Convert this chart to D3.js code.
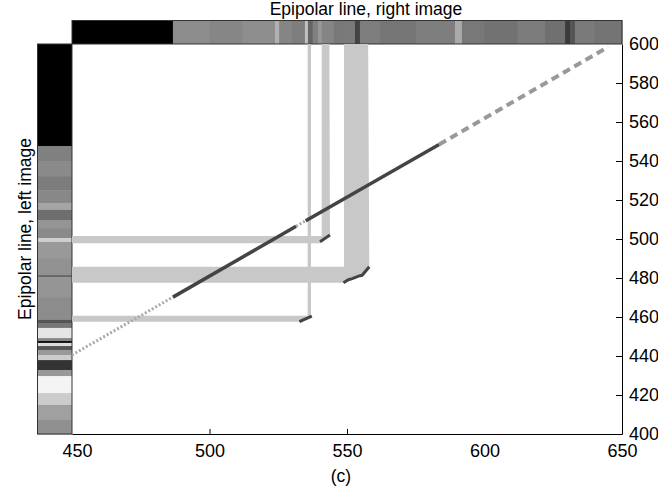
<!DOCTYPE html>
<html>
<head>
<meta charset="utf-8">
<script src="https://cdn.jsdelivr.net/npm/d3@7"></script>
<style>
  body { margin: 0; background: #fff; }
  text { font-family: "Liberation Sans", Arial, sans-serif; }
</style>
</head>
<body>
<svg id="chart" width="658" height="491"></svg>
<script>
// axis ticks
const xTicks = [450, 500, 550, 600, 650];
const yTicks = [400, 420, 440, 460, 480, 500, 520, 540, 560, 580, 600];

// intensity profile along the right-image epipolar line (x positions, gray 0-255)
const topEdges = [450, 486.7, 500, 512, 523.8, 525.3, 530, 534.7, 535.8, 537.5, 539.5, 540.9, 545, 549.3, 552.9, 554.7, 562, 575, 589.3, 591.8, 600, 612, 622, 629.3, 631.1, 632.9, 640, 650];
const topGray  = [0, 140, 134, 142, 176, 133, 126, 192, 100, 128, 150, 133, 120, 122, 68, 125, 118, 126, 170, 120, 114, 124, 112, 58, 85, 122, 116];

// intensity profile along the left-image epipolar line (y positions, gray 0-255)
const leftEdges = [600, 547.7, 540, 532, 525, 518.5, 514.9, 509.7, 505.6, 500.5, 498.5, 490, 481.5, 480.5, 470, 458.5, 456.9, 454.4, 449.2, 447.7, 446.7, 445.1, 443.1, 440.5, 437.9, 432.8, 429.7, 421.0, 414.9, 407.2, 400];
const leftGray  = [0, 128, 138, 124, 136, 165, 110, 149, 138, 208, 153, 145, 102, 149, 140, 85, 119, 229, 136, 17, 221, 85, 153, 204, 51, 153, 244, 204, 160, 144];

// matched regions (light gray L-shaped bands), [x, y] in disparity space
const bandA = [[450, 460.7], [535.7, 460.7], [535.7, 600], [536.9, 600], [536.9, 460.5], [532.7, 457.6], [450, 457.6]];
const bandB = [[450, 501.5], [540.8, 501.5], [540.8, 600], [543.6, 600], [543.8, 502], [540.2, 497.8], [450, 497.8]];
const bandC = [[450, 485.8], [548.9, 485.8], [548.9, 600], [557.7, 600], [558.1, 485.8], [555.5, 481.4], [554.7, 481.2], [551.9, 479.7], [550.5, 479.1], [548.7, 477.6], [450, 477.6]];

// short dark match paths at the band corners
const pathA = [[532.7, 457.6], [537.2, 460.5]];
const pathB = [[540.2, 498.6], [543.8, 502]];
const pathC = [[548.7, 477.6], [550.5, 479.1], [551.9, 479.7], [554.7, 481.2], [555.5, 481.4], [558.1, 485.8]];

// main diagonal path: occluded start, matched middle pieces, occluded end
const diagStart = [[450, 440.5], [486.7, 470.2]];
const diagMid   = [
  [[486.7, 470.2], [531.5, 506.5]],
  [[535, 509.4], [583.5, 548.5]]
];
const diagWeak  = [[531.5, 506.5], [535, 509.4]];
const diagEnd   = [[583.5, 548.5], [645, 598.5]];

const svg = d3.select("#chart");

const x = d3.scaleLinear().domain([450, 650]).range([72, 622]);
const y = d3.scaleLinear().domain([400, 600]).range([434, 44]);

const line = d3.line().x(d => x(d[0])).y(d => y(d[1]));

// top strip (right image)
const topG = svg.append("g");
topGray.forEach((g, i) => {
  topG.append("rect")
    .attr("x", x(topEdges[i]))
    .attr("y", 20.5)
    .attr("width", x(topEdges[i + 1]) - x(topEdges[i]) + 0.5)
    .attr("height", 23.5)
    .attr("fill", d3.rgb(g, g, g));
});
topG.append("rect")
  .attr("x", x(450)).attr("y", 20.5)
  .attr("width", x(650) - x(450)).attr("height", 23.5)
  .attr("fill", "none").attr("stroke", "#333").attr("stroke-width", 1);

// left strip (left image)
const leftG = svg.append("g");
leftGray.forEach((g, i) => {
  leftG.append("rect")
    .attr("x", 37.5)
    .attr("y", y(leftEdges[i]))
    .attr("width", 34.5)
    .attr("height", y(leftEdges[i + 1]) - y(leftEdges[i]) + 0.5)
    .attr("fill", d3.rgb(g, g, g));
});
leftG.append("rect")
  .attr("x", 37.5).attr("y", y(600))
  .attr("width", 34.5).attr("height", y(400) - y(600))
  .attr("fill", "none").attr("stroke", "#333").attr("stroke-width", 1);

// light gray matched bands
svg.append("g")
  .selectAll("path")
  .data([bandA, bandB, bandC])
  .join("path")
  .attr("d", d => line(d) + "Z")
  .attr("fill", "#c8c8c8");

// dark short paths
svg.append("g")
  .selectAll("path")
  .data([pathA, pathB, pathC])
  .join("path")
  .attr("d", line)
  .attr("fill", "none")
  .attr("stroke", "#444")
  .attr("stroke-width", 3);

// diagonal
svg.append("path").attr("d", line(diagStart))
  .attr("fill", "none").attr("stroke", "#aaa")
  .attr("stroke-width", 3).attr("stroke-dasharray", "2,2");
svg.append("g").selectAll("path")
  .data(diagMid)
  .join("path")
  .attr("d", line)
  .attr("fill", "none").attr("stroke", "#444")
  .attr("stroke-width", 3.5);
svg.append("path").attr("d", line(diagWeak))
  .attr("fill", "none").attr("stroke", "#aaa")
  .attr("stroke-width", 3).attr("stroke-dasharray", "2,2");
svg.append("path").attr("d", line(diagEnd))
  .attr("fill", "none").attr("stroke", "#999")
  .attr("stroke-width", 4).attr("stroke-dasharray", "8,5");

// axes
const xAxis = svg.append("g")
  .attr("transform", `translate(0,${y(400)})`)
  .call(d3.axisBottom(x).tickValues(xTicks).tickSizeInner(-5).tickSizeOuter(0).tickPadding(10));
xAxis.selectAll("text").attr("font-size", 18).attr("fill", "#000")
  .attr("dx", d => d === 450 ? 5 : 0);

const yAxis = svg.append("g")
  .attr("transform", `translate(${x(650)},0)`)
  .call(d3.axisRight(y).tickValues(yTicks).tickSizeInner(-6).tickSizeOuter(0).tickPadding(7));
yAxis.selectAll("text").attr("font-size", 18).attr("fill", "#000");

svg.selectAll(".domain").attr("stroke", "#000");
svg.selectAll(".tick line").attr("stroke", "#000");
svg.selectAll(".tick").filter(d => d === 450 || d === 650 || d === 400 || d === 600).select("line").remove();

// titles
svg.append("text")
  .attr("x", 366).attr("y", 15)
  .attr("text-anchor", "middle").attr("font-size", 17.5)
  .text("Epipolar line, right image");

svg.append("text")
  .attr("transform", "translate(31,229) rotate(-90)")
  .attr("text-anchor", "middle").attr("font-size", 17.5)
  .text("Epipolar line, left image");

svg.append("text")
  .attr("x", 341).attr("y", 482)
  .attr("text-anchor", "middle").attr("font-size", 17.5)
  .text("(c)");
</script>
</body>
</html>
